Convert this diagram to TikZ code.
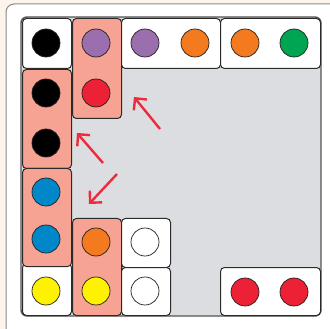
\documentclass[tikz,border=0pt]{standalone}
\usetikzlibrary{arrows.meta}
\definecolor{cream}{HTML}{FDF5EB}
\definecolor{panel}{HTML}{DCDDE0}
\definecolor{frame}{HTML}{555555}
\definecolor{outerline}{HTML}{8A8A8A}
\definecolor{boxline}{HTML}{2A2A2A}
\definecolor{salmon}{HTML}{F6A393}
\definecolor{dotline}{HTML}{231F20}
\definecolor{cpurple}{HTML}{9B6FAD}
\definecolor{cred}{HTML}{ED2135}
\definecolor{corange}{HTML}{F47A20}
\definecolor{cgreen}{HTML}{00A551}
\definecolor{cblue}{HTML}{0087CA}
\definecolor{cyellow}{HTML}{FFF200}
\definecolor{arrred}{HTML}{EE2A3C}
\begin{document}
\begin{tikzpicture}[x=1pt,y=-1pt,
  box/.style={draw=boxline, line width=1pt, rounded corners=4pt, anchor=north west, inner sep=0pt},
  wbox/.style={box, fill=white},
  sbox/.style={box, fill=salmon},
  dot/.style={circle, draw=dotline, line width=0.7pt, minimum size=28pt, inner sep=0pt},
  arr/.style={draw=arrred, line width=2.4pt, -{Straight Barb[length=8.5pt,width=17pt]}}]
\fill[cream] (0,0) rectangle (330,329);
\useasboundingbox (0,0) rectangle (330,329);
\draw[outerline, line width=1pt, fill=white, rounded corners=8pt] (6,4) rectangle (345,345);
\draw[frame, line width=1.4pt, fill=panel, rounded corners=6pt] (21,17) rectangle (321,316);
% boxes
\node[wbox, minimum width=49pt, minimum height=50pt] (b1) at (22,18) {};
\node[sbox, minimum width=49pt, minimum height=100pt] (b2) at (72,18) {};
\node[wbox, minimum width=99pt, minimum height=50pt] (b3) at (121,18) {};
\node[wbox, minimum width=100pt, minimum height=50pt] (b4) at (220,18) {};
\node[sbox, minimum width=49pt, minimum height=99pt] (b5) at (22,69) {};
\node[wbox, minimum width=49pt, minimum height=52pt] (b7) at (22,263) {};
\node[sbox, minimum width=49pt, minimum height=98pt] (b6) at (22,168) {};
\node[sbox, minimum width=49pt, minimum height=97pt] (b8) at (72,218) {};
\node[wbox, minimum width=49pt, minimum height=49pt] (b9) at (121,218) {};
\node[wbox, minimum width=49pt, minimum height=48pt] (b10) at (121,267) {};
\node[wbox, minimum width=100pt, minimum height=48pt] (b11) at (220,267) {};
% dots
\node[dot, fill=black] (d1) at (46,43) {};
\node[dot, fill=cpurple] (d2) at (96,43) {};
\node[dot, fill=cred] (d3) at (96,93) {};
\node[dot, fill=cpurple] (d4) at (145,43) {};
\node[dot, fill=corange] (d5) at (195,43) {};
\node[dot, fill=corange] (d6) at (245,43) {};
\node[dot, fill=cgreen] (d7) at (294,43) {};
\node[dot, fill=black] (d8) at (46,93) {};
\node[dot, fill=black] (d9) at (46,143) {};
\node[dot, fill=cblue] (d10) at (46,192) {};
\node[dot, fill=cblue] (d11) at (46,239) {};
\node[dot, fill=cyellow] (d12) at (46,291) {};
\node[dot, fill=corange] (d13) at (96,242) {};
\node[dot, fill=cyellow] (d14) at (96,291) {};
\node[dot, fill=white] (d15) at (145,242) {};
\node[dot, fill=white] (d16) at (145,291) {};
\node[dot, fill=cred] (d17) at (245,292) {};
\node[dot, fill=cred] (d18) at (294,292) {};
% arrows
\coordinate (a1s) at (160,129);
\coordinate (a1e) at (134,97);
\coordinate (a2s) at (103,163);
\coordinate (a2e) at (77,133);
\coordinate (a3s) at (117,174);
\coordinate (a3e) at (89,204);
\draw[arr] (a1s) -- (a1e);
\draw[arr] (a2s) -- (a2e);
\draw[arr] (a3s) -- (a3e);
\end{tikzpicture}
\end{document}
